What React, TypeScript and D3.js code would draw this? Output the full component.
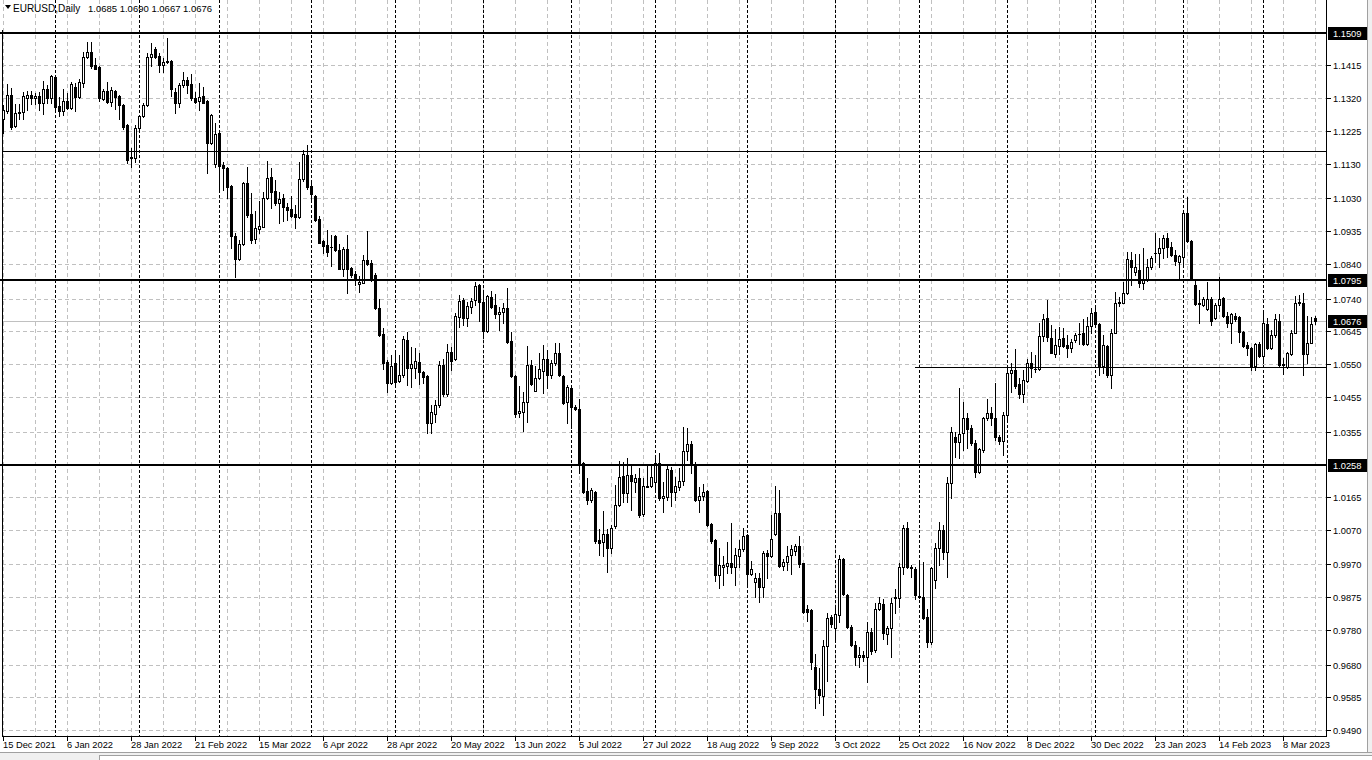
import React from 'react';
import * as d3 from 'd3';

// ---------- data (EURUSD daily) ----------
const OPEN = [
  1.1259, 1.1284, 1.1329, 1.1241, 1.1278, 1.1279, 1.1322, 1.1329, 1.1320, 1.1326,
  1.1307, 1.1346, 1.1320, 1.1381, 1.1298, 1.1284, 1.1312, 1.1293, 1.1352, 1.1325,
  1.1365, 1.1440, 1.1453, 1.1416, 1.1410, 1.1318, 1.1341, 1.1310, 1.1341, 1.1327,
  1.1301, 1.1243, 1.1151, 1.1146, 1.1233, 1.1269, 1.1301, 1.1439, 1.1462, 1.1442,
  1.1415, 1.1424, 1.1428, 1.1337, 1.1305, 1.1357, 1.1373, 1.1361, 1.1320, 1.1313,
  1.1327, 1.1312, 1.1191, 1.1130, 1.1218, 1.1127, 1.1119, 1.1066, 1.0922, 1.0854,
  1.0897, 1.1074, 1.0985, 1.0912, 1.0940, 1.0948, 1.1030, 1.1091, 1.1051, 1.1018,
  1.1030, 1.1004, 1.0999, 1.0985, 1.0977, 1.1085, 1.1156, 1.1066, 1.1037, 1.0970,
  1.0907, 1.0895, 1.0890, 1.0921, 1.0882, 1.0827, 1.0883, 1.0829, 1.0811, 1.0782,
  1.0786, 1.0852, 1.0842, 1.0808, 1.0712, 1.0637, 1.0557, 1.0496, 1.0552, 1.0502,
  1.0519, 1.0620, 1.0540, 1.0540, 1.0555, 1.0526, 1.0516, 1.0379, 1.0406, 1.0432,
  1.0547, 1.0463, 1.0586, 1.0564, 1.0687, 1.0736, 1.0683, 1.0716, 1.0736, 1.0779,
  1.0731, 1.0647, 1.0745, 1.0721, 1.0694, 1.0700, 1.0714, 1.0617, 1.0516, 1.0408,
  1.0412, 1.0441, 1.0549, 1.0473, 1.0509, 1.0531, 1.0564, 1.0519, 1.0554, 1.0581,
  1.0517, 1.0441, 1.0480, 1.0425, 1.0419, 1.0265, 1.0184, 1.0158, 1.0181, 1.0041,
  1.0036, 1.0057, 1.0017, 1.0081, 1.0142, 1.0226, 1.0178, 1.0229, 1.0210, 1.0219,
  1.0116, 1.0195, 1.0197, 1.0210, 1.0263, 1.0163, 1.0164, 1.0243, 1.0181, 1.0193,
  1.0212, 1.0298, 1.0319, 1.0258, 1.0158, 1.0168, 1.0183, 1.0086, 1.0041, 0.9939,
  0.9963, 0.9966, 0.9973, 0.9963, 0.9994, 1.0014, 1.0055, 0.9942, 0.9920, 0.9930,
  0.9904, 1.0002, 0.9994, 1.0058, 1.0120, 0.9965, 0.9978, 0.9997, 1.0010, 1.0023,
  0.9973, 0.9840, 0.9838, 0.9672, 0.9608, 0.9589, 0.9734, 0.9817, 0.9785, 0.9823,
  0.9985, 0.9881, 0.9790, 0.9737, 0.9701, 0.9708, 0.9701, 0.9775, 0.9722, 0.9840,
  0.9855, 0.9770, 0.9785, 0.9872, 0.9872, 0.9963, 1.0077, 0.9963, 0.9958, 0.9879,
  0.9875, 0.9817, 0.9746, 0.9925, 1.0019, 1.0071, 1.0007, 1.0207, 1.0340, 1.0325,
  1.0350, 1.0393, 1.0364, 1.0323, 1.0239, 1.0301, 1.0395, 1.0409, 1.0393, 1.0338,
  1.0328, 1.0403, 1.0523, 1.0533, 1.0492, 1.0463, 1.0502, 1.0554, 1.0535, 1.0535,
  1.0631, 1.0683, 1.0625, 1.0579, 1.0603, 1.0625, 1.0605, 1.0596, 1.0620, 1.0637,
  1.0639, 1.0608, 1.0660, 1.0702, 1.0665, 1.0545, 1.0603, 1.0519, 1.0641, 1.0726,
  1.0728, 1.0755, 1.0852, 1.0818, 1.0823, 1.0786, 1.0794, 1.0830, 1.0871, 1.0871,
  1.0885, 1.0914, 1.0888, 1.0866, 1.0847, 1.0861, 1.0989, 1.0908, 1.0779, 1.0724,
  1.0721, 1.0709, 1.0738, 1.0683, 1.0721, 1.0741, 1.0690, 1.0670, 1.0690, 1.0686,
  1.0644, 1.0605, 1.0596, 1.0545, 1.0608, 1.0574, 1.0666, 1.0596, 1.0634, 1.0676,
  1.0551, 1.0543, 1.0579, 1.0641, 1.0726, 1.0728, 1.0579, 1.0612, 1.0685,
];

const HIGH = [
  1.1301, 1.1361, 1.1349, 1.1303, 1.1303, 1.1339, 1.1341, 1.1342, 1.1336, 1.1339,
  1.1371, 1.1358, 1.1387, 1.1383, 1.1323, 1.1346, 1.1336, 1.1366, 1.1363, 1.1375,
  1.1453, 1.1482, 1.1482, 1.1436, 1.1412, 1.1346, 1.1368, 1.1354, 1.1344, 1.1330,
  1.1303, 1.1245, 1.1175, 1.1243, 1.1272, 1.1305, 1.1450, 1.1481, 1.1468, 1.1450,
  1.1436, 1.1494, 1.1431, 1.1349, 1.1365, 1.1395, 1.1383, 1.1389, 1.1339, 1.1363,
  1.1354, 1.1314, 1.1274, 1.1247, 1.1225, 1.1136, 1.1121, 1.1068, 1.0931, 1.0910,
  1.1078, 1.1120, 1.1045, 1.0993, 1.1022, 1.1049, 1.1138, 1.1117, 1.1083, 1.1049,
  1.1043, 1.1016, 1.1037, 1.1011, 1.1136, 1.1170, 1.1185, 1.1083, 1.1040, 1.0979,
  1.0911, 1.0938, 1.0924, 1.0924, 1.0898, 1.0890, 1.0924, 1.0832, 1.0821, 1.0805,
  1.0866, 1.0937, 1.0852, 1.0813, 1.0738, 1.0654, 1.0562, 1.0576, 1.0581, 1.0576,
  1.0631, 1.0642, 1.0599, 1.0596, 1.0581, 1.0531, 1.0518, 1.0432, 1.0446, 1.0560,
  1.0565, 1.0608, 1.0599, 1.0699, 1.0750, 1.0741, 1.0731, 1.0741, 1.0787, 1.0781,
  1.0760, 1.0750, 1.0763, 1.0753, 1.0716, 1.0726, 1.0772, 1.0644, 1.0518, 1.0487,
  1.0470, 1.0602, 1.0562, 1.0545, 1.0583, 1.0605, 1.0591, 1.0562, 1.0612, 1.0610,
  1.0519, 1.0490, 1.0482, 1.0432, 1.0448, 1.0268, 1.0219, 1.0190, 1.0184, 1.0074,
  1.0126, 1.0074, 1.0084, 1.0200, 1.0269, 1.0267, 1.0277, 1.0258, 1.0232, 1.0248,
  1.0219, 1.0258, 1.0258, 1.0284, 1.0294, 1.0210, 1.0255, 1.0253, 1.0222, 1.0248,
  1.0369, 1.0364, 1.0328, 1.0268, 1.0193, 1.0203, 1.0185, 1.0091, 1.0045, 1.0019,
  0.9994, 1.0036, 1.0089, 1.0017, 1.0041, 1.0077, 1.0058, 0.9981, 0.9944, 0.9946,
  1.0010, 1.0012, 1.0113, 1.0197, 1.0187, 0.9985, 1.0023, 1.0026, 1.0029, 1.0052,
  0.9975, 0.9852, 0.9840, 0.9711, 0.9669, 0.9751, 0.9828, 0.9823, 0.9843, 0.9997,
  0.9990, 0.9884, 0.9795, 0.9749, 0.9732, 0.9720, 0.9804, 0.9785, 0.9859, 0.9875,
  0.9870, 0.9792, 0.9872, 0.9898, 0.9975, 1.0084, 1.0094, 0.9968, 0.9963, 0.9976,
  0.9978, 0.9840, 0.9962, 1.0033, 1.0094, 1.0084, 1.0222, 1.0367, 1.0354, 1.0480,
  1.0441, 1.0408, 1.0374, 1.0330, 1.0306, 1.0398, 1.0448, 1.0427, 1.0496, 1.0345,
  1.0412, 1.0548, 1.0554, 1.0593, 1.0509, 1.0533, 1.0564, 1.0586, 1.0576, 1.0670,
  1.0695, 1.0736, 1.0663, 1.0651, 1.0658, 1.0654, 1.0634, 1.0622, 1.0639, 1.0670,
  1.0680, 1.0687, 1.0712, 1.0712, 1.0668, 1.0634, 1.0606, 1.0651, 1.0760, 1.0744,
  1.0789, 1.0876, 1.0876, 1.0869, 1.0869, 1.0885, 1.0854, 1.0863, 1.0929, 1.0914,
  1.0924, 1.0931, 1.0905, 1.0882, 1.0866, 1.0997, 1.1033, 1.0910, 1.0796, 1.0765,
  1.0744, 1.0789, 1.0744, 1.0728, 1.0803, 1.0744, 1.0702, 1.0697, 1.0699, 1.0690,
  1.0647, 1.0615, 1.0599, 1.0612, 1.0615, 1.0699, 1.0683, 1.0649, 1.0695, 1.0695,
  1.0567, 1.0586, 1.0649, 1.0747, 1.0750, 1.0757, 1.0690, 1.0686, 1.0690,
];

const LOW = [
  1.1220, 1.1278, 1.1231, 1.1238, 1.1259, 1.1259, 1.1286, 1.1303, 1.1303, 1.1286,
  1.1273, 1.1305, 1.1305, 1.1281, 1.1269, 1.1271, 1.1290, 1.1288, 1.1284, 1.1322,
  1.1354, 1.1436, 1.1407, 1.1404, 1.1313, 1.1315, 1.1307, 1.1298, 1.1289, 1.1260,
  1.1231, 1.1132, 1.1120, 1.1134, 1.1228, 1.1265, 1.1298, 1.1412, 1.1436, 1.1395,
  1.1397, 1.1421, 1.1327, 1.1278, 1.1296, 1.1354, 1.1334, 1.1315, 1.1305, 1.1286,
  1.1305, 1.1104, 1.1188, 1.1122, 1.1058, 1.1054, 1.1032, 1.0885, 1.0803, 1.0852,
  1.0895, 1.0975, 1.0900, 1.0900, 1.0929, 1.0946, 1.1027, 1.1001, 1.1011, 1.0960,
  1.0965, 1.0967, 1.0977, 1.0943, 1.0972, 1.1081, 1.1057, 1.1025, 1.0966, 1.0900,
  1.0873, 1.0863, 1.0834, 1.0879, 1.0825, 1.0805, 1.0757, 1.0803, 1.0779, 1.0760,
  1.0784, 1.0837, 1.0792, 1.0709, 1.0632, 1.0535, 1.0470, 1.0492, 1.0487, 1.0499,
  1.0514, 1.0490, 1.0483, 1.0509, 1.0492, 1.0496, 1.0352, 1.0350, 1.0383, 1.0427,
  1.0458, 1.0458, 1.0533, 1.0562, 1.0659, 1.0663, 1.0660, 1.0697, 1.0721, 1.0676,
  1.0625, 1.0644, 1.0714, 1.0683, 1.0649, 1.0670, 1.0612, 1.0512, 1.0398, 1.0398,
  1.0357, 1.0383, 1.0490, 1.0471, 1.0506, 1.0467, 1.0480, 1.0509, 1.0547, 1.0516,
  1.0435, 1.0380, 1.0364, 1.0417, 1.0234, 1.0178, 1.0145, 1.0152, 1.0031, 0.9997,
  0.9994, 0.9949, 1.0004, 1.0077, 1.0139, 1.0152, 1.0152, 1.0129, 1.0181, 1.0108,
  1.0110, 1.0193, 1.0195, 1.0185, 1.0157, 1.0123, 1.0157, 1.0139, 1.0157, 1.0185,
  1.0200, 1.0272, 1.0236, 1.0155, 1.0123, 1.0157, 1.0081, 1.0033, 0.9923, 0.9901,
  0.9910, 0.9946, 0.9946, 0.9910, 0.9963, 1.0010, 0.9910, 0.9939, 0.9877, 0.9862,
  0.9875, 0.9930, 0.9991, 1.0055, 0.9963, 0.9954, 0.9954, 0.9942, 0.9997, 0.9963,
  0.9830, 0.9807, 0.9666, 0.9553, 0.9568, 0.9534, 0.9633, 0.9790, 0.9751, 0.9804,
  0.9881, 0.9785, 0.9734, 0.9679, 0.9672, 0.9691, 0.9630, 0.9712, 0.9717, 0.9838,
  0.9755, 0.9739, 0.9703, 0.9828, 0.9848, 0.9942, 0.9961, 0.9934, 0.9869, 0.9872,
  0.9811, 0.9730, 0.9739, 0.9901, 0.9968, 0.9985, 0.9935, 1.0161, 1.0280, 1.0277,
  1.0301, 1.0306, 1.0316, 1.0222, 1.0236, 1.0296, 1.0388, 1.0374, 1.0330, 1.0319,
  1.0287, 1.0390, 1.0470, 1.0480, 1.0451, 1.0441, 1.0499, 1.0514, 1.0528, 1.0533,
  1.0618, 1.0618, 1.0581, 1.0572, 1.0579, 1.0599, 1.0572, 1.0586, 1.0615, 1.0608,
  1.0605, 1.0605, 1.0639, 1.0658, 1.0519, 1.0525, 1.0512, 1.0480, 1.0639, 1.0719,
  1.0726, 1.0753, 1.0779, 1.0808, 1.0774, 1.0767, 1.0792, 1.0825, 1.0847, 1.0832,
  1.0856, 1.0861, 1.0864, 1.0837, 1.0799, 1.0840, 1.0905, 1.0794, 1.0721, 1.0668,
  1.0719, 1.0707, 1.0663, 1.0680, 1.0705, 1.0688, 1.0659, 1.0612, 1.0676, 1.0615,
  1.0601, 1.0576, 1.0533, 1.0533, 1.0572, 1.0552, 1.0593, 1.0593, 1.0629, 1.0545,
  1.0522, 1.0538, 1.0576, 1.0639, 1.0721, 1.0519, 1.0552, 1.0610, 1.0667,
];

const CLOSE = [
  1.1286, 1.1329, 1.1238, 1.1276, 1.1280, 1.1326, 1.1329, 1.1321, 1.1327, 1.1307,
  1.1346, 1.1322, 1.1385, 1.1296, 1.1284, 1.1312, 1.1293, 1.1361, 1.1323, 1.1366,
  1.1440, 1.1453, 1.1412, 1.1406, 1.1320, 1.1341, 1.1310, 1.1344, 1.1325, 1.1301,
  1.1238, 1.1141, 1.1146, 1.1233, 1.1270, 1.1301, 1.1439, 1.1448, 1.1440, 1.1416,
  1.1426, 1.1428, 1.1347, 1.1305, 1.1358, 1.1373, 1.1358, 1.1320, 1.1310, 1.1325,
  1.1307, 1.1190, 1.1271, 1.1216, 1.1125, 1.1117, 1.1064, 1.0922, 1.0854, 1.0897,
  1.1074, 1.0982, 1.0911, 1.0943, 1.0950, 1.1030, 1.1088, 1.1049, 1.1018, 1.1027,
  1.1006, 1.0996, 1.0979, 1.0975, 1.1085, 1.1159, 1.1064, 1.1042, 1.0967, 1.0902,
  1.0892, 1.0876, 1.0888, 1.0881, 1.0826, 1.0883, 1.0827, 1.0808, 1.0794, 1.0789,
  1.0852, 1.0840, 1.0794, 1.0712, 1.0634, 1.0554, 1.0496, 1.0545, 1.0499, 1.0519,
  1.0622, 1.0540, 1.0550, 1.0559, 1.0526, 1.0512, 1.0379, 1.0412, 1.0432, 1.0547,
  1.0465, 1.0586, 1.0560, 1.0689, 1.0733, 1.0683, 1.0718, 1.0733, 1.0776, 1.0731,
  1.0647, 1.0748, 1.0716, 1.0694, 1.0702, 1.0714, 1.0615, 1.0517, 1.0406, 1.0414,
  1.0441, 1.0547, 1.0494, 1.0509, 1.0535, 1.0564, 1.0519, 1.0554, 1.0581, 1.0519,
  1.0438, 1.0483, 1.0425, 1.0421, 1.0265, 1.0181, 1.0158, 1.0185, 1.0039, 1.0033,
  1.0057, 1.0017, 1.0077, 1.0142, 1.0224, 1.0178, 1.0229, 1.0213, 1.0219, 1.0113,
  1.0197, 1.0198, 1.0224, 1.0263, 1.0163, 1.0168, 1.0245, 1.0181, 1.0197, 1.0212,
  1.0298, 1.0319, 1.0261, 1.0157, 1.0169, 1.0179, 1.0084, 1.0039, 0.9939, 0.9968,
  0.9968, 0.9973, 0.9963, 0.9997, 1.0014, 1.0052, 0.9942, 0.9956, 0.9930, 0.9904,
  1.0004, 0.9994, 1.0043, 1.0120, 0.9965, 0.9978, 0.9995, 1.0014, 1.0023, 0.9971,
  0.9833, 0.9833, 0.9688, 0.9608, 0.9592, 0.9734, 0.9814, 0.9799, 0.9826, 0.9985,
  0.9884, 0.9790, 0.9737, 0.9701, 0.9708, 0.9701, 0.9775, 0.9720, 0.9840, 0.9857,
  0.9771, 0.9785, 0.9859, 0.9875, 0.9963, 1.0077, 0.9963, 0.9961, 0.9881, 0.9875,
  0.9814, 0.9746, 0.9959, 1.0019, 1.0071, 1.0007, 1.0207, 1.0354, 1.0325, 1.0348,
  1.0393, 1.0361, 1.0323, 1.0239, 1.0303, 1.0393, 1.0408, 1.0393, 1.0338, 1.0328,
  1.0403, 1.0523, 1.0533, 1.0487, 1.0463, 1.0504, 1.0554, 1.0538, 1.0537, 1.0631,
  1.0680, 1.0628, 1.0583, 1.0605, 1.0622, 1.0603, 1.0596, 1.0613, 1.0634, 1.0636,
  1.0608, 1.0660, 1.0699, 1.0666, 1.0545, 1.0605, 1.0519, 1.0641, 1.0726, 1.0731,
  1.0755, 1.0854, 1.0830, 1.0830, 1.0786, 1.0796, 1.0830, 1.0857, 1.0873, 1.0885,
  1.0914, 1.0890, 1.0866, 1.0850, 1.0863, 1.0989, 1.0908, 1.0796, 1.0724, 1.0726,
  1.0738, 1.0738, 1.0675, 1.0721, 1.0738, 1.0690, 1.0670, 1.0695, 1.0680, 1.0644,
  1.0603, 1.0596, 1.0545, 1.0608, 1.0574, 1.0668, 1.0596, 1.0634, 1.0680, 1.0548,
  1.0548, 1.0581, 1.0641, 1.0728, 1.0731, 1.0579, 1.0612, 1.0666, 1.0676,
];

const FIRST_DAY = [2021, 11, 15]; // 15 Dec 2021 (month is 0-based)

const DATE_LABELS = [
  '15 Dec 2021', '6 Jan 2022', '28 Jan 2022', '21 Feb 2022', '15 Mar 2022', '6 Apr 2022',
  '28 Apr 2022', '20 May 2022', '13 Jun 2022', '5 Jul 2022', '27 Jul 2022', '18 Aug 2022',
  '9 Sep 2022', '3 Oct 2022', '25 Oct 2022', '16 Nov 2022', '8 Dec 2022', '30 Dec 2022',
  '23 Jan 2023', '14 Feb 2023', '8 Mar 2023',
];

const PRICE_TICKS = [
  1.1415, 1.1320, 1.1225, 1.1130, 1.1030, 1.0935, 1.0840, 1.0740, 1.0645, 1.0550,
  1.0455, 1.0355, 1.0165, 1.0070, 0.9970, 0.9875, 0.9780, 0.9680, 0.9585, 0.9490,
];

const THICK_LEVELS = [1.1509, 1.0795, 1.0258];
const THIN_LEVEL = 1.1167;
const SUPPORT_LEVEL = 1.0542;
const SUPPORT_FROM_BAR = 228;
const BID = 1.0676;
const BOXED_LEVELS = [1.1509, 1.0795, 1.0676, 1.0258];

const SYMBOL = 'EURUSD,Daily';
const TITLE_OHLC = ['1.0685', '1.0690', '1.0667', '1.0676'];

// ---------- layout ----------
const W = 1372;
const H = 760;
const LEFT = 2;
const RIGHT = 1326;
const BOTTOM = 736;
const FONT = '"Liberation Sans", Arial, sans-serif';
const GRID = '#c0c0c0';

function tradingDays(n: number): Date[] {
  const out: Date[] = [];
  const d = new Date(FIRST_DAY[0], FIRST_DAY[1], FIRST_DAY[2]);
  while (out.length < n) {
    const wd = d.getDay();
    if (wd !== 0 && wd !== 6) out.push(new Date(d));
    d.setDate(d.getDate() + 1);
  }
  return out;
}

export default function App() {
  const n = OPEN.length;
  const dates = tradingDays(n);
  const x = d3.scaleLinear().domain([0, n - 1]).range([3, 3 + 4 * (n - 1)]);
  const y = d3.scaleLinear().domain([0.947614, 1.160456]).range([735, 0]);
  const py = (v: number) => Math.round(y(v));

  const monthStarts: number[] = [];
  for (let i = 1; i < n; i++) {
    if (dates[i].getMonth() !== dates[i - 1].getMonth()) monthStarts.push(i);
  }
  const gridBars = d3.range(0, n, 8);

  return (
    <svg
      width={W}
      height={H}
      style={{ position: 'fixed', left: 0, top: 0, display: 'block', background: '#fff' }}
      fontFamily={FONT}
    >
      <rect x={0} y={0} width={W} height={H} fill="#fff" />
      <g shapeRendering="crispEdges">
        {/* horizontal grid */}
        {PRICE_TICKS.map((v) => (
          <line key={'hg' + v} x1={LEFT} x2={RIGHT} y1={py(v) + 0.5} y2={py(v) + 0.5}
            stroke={GRID} strokeDasharray="4,3" />
        ))}
        {/* vertical grid */}
        {gridBars.map((i) => (
          <line key={'vg' + i} x1={Math.round(x(i)) + 0.5} x2={Math.round(x(i)) + 0.5} y1={0} y2={BOTTOM}
            stroke={GRID} strokeDasharray="4,3" />
        ))}
        {/* month separators */}
        {monthStarts.map((i) => (
          <line key={'ms' + i} x1={Math.round(x(i)) + 0.5} x2={Math.round(x(i)) + 0.5} y1={0} y2={BOTTOM}
            stroke="#000" strokeDasharray="3,2" />
        ))}
        {/* bid line */}
        <line x1={LEFT} x2={RIGHT} y1={py(BID) + 0.5} y2={py(BID) + 0.5} stroke={GRID} />

        {/* candles */}
        {OPEN.map((o, i) => {
          const c = CLOSE[i];
          const cx = Math.round(x(i));
          const yH = py(HIGH[i]);
          const yL = py(LOW[i]);
          const yO = py(o);
          const yC = py(c);
          const top = Math.min(yO, yC);
          const bot = Math.max(yO, yC);
          const bull = c >= o;
          let body;
          if (bot - top < 1) {
            body = <line x1={cx - 1} x2={cx + 2} y1={top + 0.5} y2={top + 0.5} stroke="#000" />;
          } else if (bull) {
            body = <rect x={cx - 0.5} y={top + 0.5} width={2} height={bot - top} fill="#fff" stroke="#000" />;
          } else {
            body = <rect x={cx - 1} y={top} width={3} height={bot - top + 1} fill="#000" />;
          }
          return (
            <g key={'c' + i}>
              <line x1={cx + 0.5} x2={cx + 0.5} y1={yH} y2={yL + 1} stroke="#000" />
              {body}
            </g>
          );
        })}

        {/* level lines */}
        <line x1={LEFT} x2={RIGHT} y1={py(THIN_LEVEL) + 0.5} y2={py(THIN_LEVEL) + 0.5} stroke="#000" />
        <line x1={Math.round(x(SUPPORT_FROM_BAR))} x2={RIGHT} y1={py(SUPPORT_LEVEL) + 0.5} y2={py(SUPPORT_LEVEL) + 0.5} stroke="#000" />
        {THICK_LEVELS.map((v) => (
          <rect key={'tl' + v} x={0} y={py(v) - 1} width={RIGHT} height={2} fill="#000" />
        ))}

        {/* plot frame */}
        <line x1={LEFT + 0.5} x2={LEFT + 0.5} y1={30} y2={BOTTOM} stroke="#000" />
        <line x1={RIGHT + 0.5} x2={RIGHT + 0.5} y1={0} y2={BOTTOM + 1} stroke="#000" />
        <line x1={LEFT} x2={RIGHT + 1} y1={BOTTOM + 0.5} y2={BOTTOM + 0.5} stroke="#000" />

        {/* price axis ticks */}
        {PRICE_TICKS.map((v) => (
          <line key={'pt' + v} x1={RIGHT + 1} x2={RIGHT + 5} y1={py(v) + 0.5} y2={py(v) + 0.5} stroke="#000" />
        ))}
        {/* date axis ticks */}
        {DATE_LABELS.map((_, k) => (
          <line key={'dt' + k} x1={Math.round(x(k * 16)) + 0.5} x2={Math.round(x(k * 16)) + 0.5}
            y1={BOTTOM + 1} y2={BOTTOM + 5} stroke="#000" />
        ))}
        {/* boxed labels */}
        {BOXED_LEVELS.map((v) => (
          <rect key={'bx' + v} x={RIGHT + 2} y={py(v) - 6} width={39} height={13} fill="#000" />
        ))}

        {/* window chrome */}
        <rect x={1368} y={0} width={4} height={H} fill="#f0f0f0" />
        <line x1={1367.5} x2={1367.5} y1={0} y2={752} stroke="#a0a0a0" />
        <rect x={0} y={752} width={W} height={8} fill="#f0f0f0" />
        <line x1={0} x2={W} y1={752.5} y2={752.5} stroke="#a0a0a0" />
        <rect x={99.5} y={755.5} width={1290} height={10} fill="#fff" stroke="#a0a0a0" />
      </g>

      {/* price labels */}
      {PRICE_TICKS.map((v) => (
        <text key={'pl' + v} x={RIGHT + 7} y={py(v) + 3.5} fontSize={9.3} fill="#000">
          {v.toFixed(4)}
        </text>
      ))}
      {BOXED_LEVELS.map((v) => (
        <text key={'bl' + v} x={RIGHT + 7} y={py(v) + 3.5} fontSize={9.3} fill="#fff">
          {v.toFixed(4)}
        </text>
      ))}

      {/* date labels */}
      {DATE_LABELS.map((s, k) => (
        <text key={'dl' + k} x={Math.round(x(k * 16))} y={748} fontSize={9.3} fill="#000">
          {s}
        </text>
      ))}

      {/* title */}
      <path d="M5,5 L11,5 L8,9 Z" fill="#000" />
      <text x={13} y={12} fontSize={10} fill="#000">{SYMBOL}</text>
      <text x={88} y={12} fontSize={9.5} fill="#000">{TITLE_OHLC.join(' ')}</text>
    </svg>
  );
}
